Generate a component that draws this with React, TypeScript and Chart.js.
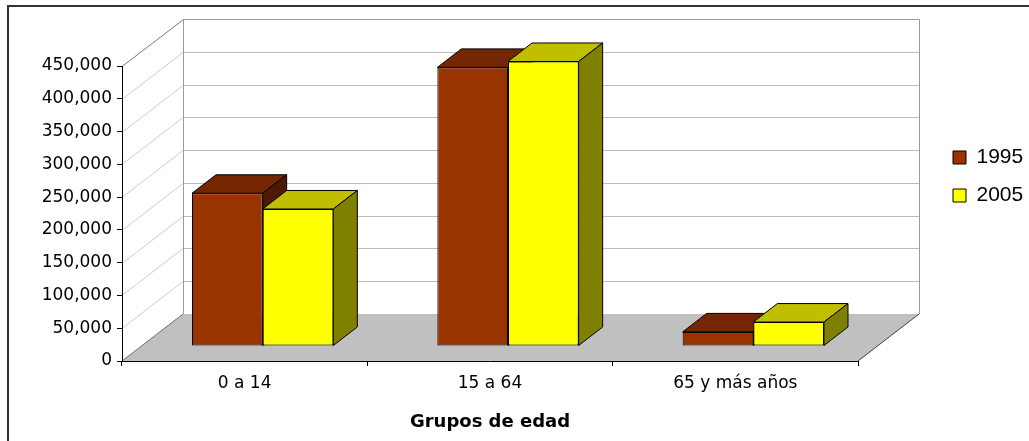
import { useEffect, useRef } from 'react';
import { Chart, registerables } from 'chart.js';

Chart.register(...registerables);

// ---- data ----
const categories = ['0 a 14', '15 a 64', '65 y más años'];
const seriesLabels = ['1995', '2005'];
const values1995 = [233000, 425000, 21500];
const values2005 = [209000, 434000, 36500];
const yMax = 450000;
const yStep = 50000;
const xTitle = 'Grupos de edad';

// ---- styles ----
const frontColors = ['#993300', '#ffff00'];
const topColors = ['#732600', '#bfbf00'];
const sideColors = ['#4d1a00', '#808000'];
const WALL = { dx: 61, dy: -47 };
const BAR_SHIFT = { dx: 18, dy: -15 };
const BAR_DEPTH = { dx: 24, dy: -18.5 };

function poly(ctx: CanvasRenderingContext2D, pts: number[][], fill: string, stroke?: string) {
  ctx.beginPath();
  ctx.moveTo(pts[0][0], pts[0][1]);
  for (let k = 1; k < pts.length; k++) ctx.lineTo(pts[k][0], pts[k][1]);
  ctx.closePath();
  ctx.fillStyle = fill;
  ctx.fill();
  if (stroke) {
    ctx.strokeStyle = stroke;
    ctx.lineWidth = 1;
    ctx.stroke();
  }
}

function line(ctx: CanvasRenderingContext2D, x1: number, y1: number, x2: number, y2: number, color: string) {
  ctx.beginPath();
  ctx.moveTo(x1, y1);
  ctx.lineTo(x2, y2);
  ctx.strokeStyle = color;
  ctx.lineWidth = 1;
  ctx.stroke();
}

const scenePlugin = {
  id: 'scene3d',
  afterLayout(chart: any) {
    const lg = chart.legend;
    if (lg) {
      lg.left = 936;
      lg.top = 130;
      lg.right = lg.left + lg.width;
      lg.bottom = lg.top + lg.height;
    }
  },
  beforeDraw(chart: any) {
    const { ctx, chartArea: a, scales } = chart;
    const ys = scales.y;
    ctx.save();
    // outer frame
    ctx.fillStyle = '#333333';
    ctx.fillRect(7, 5, 1022, 2);
    ctx.fillRect(7, 5, 2, 436);

    const L = a.left, R = a.right, B = a.bottom;
    const dx = WALL.dx, dy = WALL.dy;
    // floor
    poly(ctx, [[L, B], [R, B], [R + dx, B + dy], [L + dx, B + dy]], '#c0c0c0');
    // gridlines on left and back walls
    const ticks = ys.ticks;
    for (const t of ticks) {
      const v = t.value;
      if (v <= 0 || v >= yMax) continue;
      const py = Math.round(ys.getPixelForValue(v)) + 0.5;
      line(ctx, L, py, L + dx, py + dy, '#cccccc');
      line(ctx, L + dx, py + dy, R + dx, py + dy, '#bdbdbd');
    }
    const tY = Math.round(ys.getPixelForValue(yMax)) + 0.5;
    // wall edges
    line(ctx, L, tY, L + dx + 0.5, tY + dy, '#7a7a7a');
    line(ctx, L + dx + 0.5, tY + dy, R + dx + 0.5, tY + dy, '#9a9a9a');
    line(ctx, L + dx + 0.5, tY + dy, L + dx + 0.5, B + dy, '#9a9a9a');
    line(ctx, R + dx + 0.5, tY + dy, R + dx + 0.5, B + dy, '#9a9a9a');
    // floor edges
    line(ctx, L, B, L + dx, B + dy, '#707070');
    line(ctx, R, B, R + dx, B + dy, '#404040');
    ctx.restore();
  },
  beforeDatasetsDraw(chart: any) {
    const ctx = chart.ctx as CanvasRenderingContext2D;
    ctx.save();
    ctx.translate(BAR_SHIFT.dx, BAR_SHIFT.dy);
    const n = chart.data.labels.length;
    const m = chart.data.datasets.length;
    for (let j = 0; j < n; j++) {
      for (let i = 0; i < m; i++) {
        const el = chart.getDatasetMeta(i).data[j];
        if (!el) continue;
        const { x, y, base, width } = el.getProps(['x', 'y', 'base', 'width'], true);
        const l = x - width / 2;
        const r = x + width / 2;
        const bx = BAR_DEPTH.dx, by = BAR_DEPTH.dy;
        poly(ctx, [[l, y], [r, y], [r + bx, y + by], [l + bx, y + by]], topColors[i], '#000');
        poly(ctx, [[r, y], [r + bx, y + by], [r + bx, base + by], [r, base]], sideColors[i], '#000');
      }
    }
  },
  afterDatasetsDraw(chart: any) {
    chart.ctx.restore();
  },
};

export default function App() {
  const ref = useRef<HTMLCanvasElement>(null);
  useEffect(() => {
    document.body.style.margin = '0';
    document.body.style.overflow = 'hidden';
    const canvas = ref.current;
    if (!canvas) return;
    const tickFont = { family: '"DejaVu Sans", Verdana, sans-serif', size: 17 };
    const chart = new Chart(canvas, {
      type: 'bar',
      data: {
        labels: categories,
        datasets: [
          {
            label: seriesLabels[0],
            data: values1995,
            backgroundColor: frontColors[0],
            borderColor: '#000',
            borderWidth: 1,
            borderSkipped: false,
            barPercentage: 1,
            categoryPercentage: 0.576,
            clip: false as any,
          },
          {
            label: seriesLabels[1],
            data: values2005,
            backgroundColor: frontColors[1],
            borderColor: '#000',
            borderWidth: 1,
            borderSkipped: false,
            barPercentage: 1,
            categoryPercentage: 0.576,
            clip: false as any,
          },
        ],
      },
      options: {
        responsive: false,
        animation: false,
        layout: { padding: { left: 0, top: 66, right: 171, bottom: 0 } },
        plugins: {
          legend: {
            position: 'chartArea' as any,
            align: 'start',
            labels: {
              boxWidth: 13,
              boxHeight: 13,
              padding: 17,
              color: '#000',
              font: { family: '"Liberation Sans", Arial, sans-serif', size: 21 },
            },
          },
          tooltip: { enabled: false },
        },
        scales: {
          x: {
            type: 'category',
            offset: true,
            grid: { display: true, offset: true, drawOnChartArea: false, drawTicks: true, tickLength: 5, color: '#000' },
            border: { display: true, color: '#000', width: 1 },
            ticks: { color: '#000', padding: 7, font: tickFont, maxRotation: 0, autoSkip: false },
            title: {
              display: true,
              text: xTitle,
              color: '#000',
              font: { family: '"DejaVu Sans", Verdana, sans-serif', size: 18, weight: 'bold' },
              padding: { top: 0, bottom: 8 },
            },
            afterFit: (s: any) => {
              s.height = 80;
            },
          },
          y: {
            min: 0,
            max: yMax,
            ticks: {
              stepSize: yStep,
              color: '#000',
              padding: 5,
              font: tickFont,
              callback: (v: any) => Number(v).toLocaleString('en-US'),
            },
            grid: { display: true, drawOnChartArea: false, drawTicks: true, tickLength: 5, color: '#000' },
            border: { display: true, color: '#000', width: 1 },
            afterFit: (s: any) => {
              s.width = 122;
            },
          },
        },
      },
      plugins: [scenePlugin],
    });
    return () => chart.destroy();
  }, []);
  return (
    <div style={{ width: 1029, height: 441, position: 'relative', background: '#fff' }}>
      <canvas ref={ref} width={1029} height={441} style={{ display: 'block' }} />
    </div>
  );
}
